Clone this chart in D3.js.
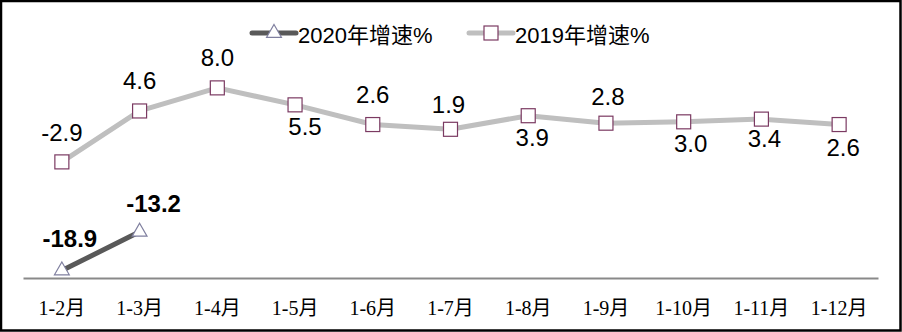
<!DOCTYPE html>
<html>
<head>
<meta charset="utf-8">
<script src="https://cdn.jsdelivr.net/npm/d3@7/dist/d3.min.js"></script>
<style>
  html, body { margin: 0; padding: 0; background: #fff; }
  svg { display: block; }
</style>
</head>
<body>
<svg id="chart" width="902" height="332"></svg>
<script>
// Monthly cumulative periods
const categories = ["1-2月", "1-3月", "1-4月", "1-5月", "1-6月", "1-7月", "1-8月", "1-9月", "1-10月", "1-11月", "1-12月"];
// Growth rates, %
const growth2020 = [-18.9, -13.2];
const growth2019 = [-2.9, 4.6, 8.0, 5.5, 2.6, 1.9, 3.9, 2.8, 3.0, 3.4, 2.6];
const seriesNames = ["2020年增速%", "2019年增速%"];

// Label offsets (dx, dy) from each point
const labelOffset2019 = [[0, -29], [0, -30], [0, -30], [10, 22], [0, -30], [-2, -25], [4, 22], [2, -27], [7, 22], [3, 19], [4, 23]];
const labelOffset2020 = [[8, -32], [14, -28]];

const W = 902, H = 332;
const svg = d3.select("#chart");

// Outer frame
svg.append("rect")
  .attr("x", 1).attr("y", 1).attr("width", W - 2.5).attr("height", H - 2.5)
  .attr("fill", "#fff").attr("stroke", "#000").attr("stroke-width", 2.5);

const x = d3.scaleBand().domain(categories).range([23, 878]);
const y = d3.scaleLinear().domain([-20, 10]).range([278, 74.3]);
const cx = d => x(d) + x.bandwidth() / 2;

// Category axis
const axis = svg.append("g")
  .attr("transform", `translate(0,${y(-20)})`)
  .call(d3.axisBottom(x).tickSize(0).tickPadding(23));
axis.select(".domain").attr("stroke", "#898989").attr("stroke-width", 2.2);
axis.selectAll("text")
  .attr("font-family", "'Liberation Serif', 'Noto Sans CJK SC', serif")
  .attr("font-size", 20)
  .attr("fill", "#000");

const line = d3.line().x((d, i) => cx(categories[i])).y(d => y(d));

// 2019 series
svg.append("path").datum(growth2019)
  .attr("d", line)
  .attr("fill", "none").attr("stroke", "#bfbfbf").attr("stroke-width", 5)
  .attr("stroke-linejoin", "round");

// 2020 series
svg.append("path").datum(growth2020)
  .attr("d", line)
  .attr("fill", "none").attr("stroke", "#595959").attr("stroke-width", 5)
  .attr("stroke-linejoin", "round");

const sq = 14;
svg.append("g").selectAll("rect").data(growth2019).join("rect")
  .attr("x", (d, i) => cx(categories[i]) - sq / 2)
  .attr("y", d => y(d) - sq / 2)
  .attr("width", sq).attr("height", sq)
  .attr("fill", "#fff").attr("stroke", "#7b3a62").attr("stroke-width", 1.2);

const tri = d3.symbol().type(d3.symbolTriangle).size(95);
svg.append("g").selectAll("path").data(growth2020).join("path")
  .attr("d", tri)
  .attr("transform", (d, i) => `translate(${cx(categories[i])},${y(d)})`)
  .attr("fill", "#fff").attr("stroke", "#7f7f9f").attr("stroke-width", 1.2);

// Value labels, 2019
svg.append("g").selectAll("text").data(growth2019).join("text")
  .attr("x", (d, i) => cx(categories[i]) + labelOffset2019[i][0])
  .attr("y", (d, i) => y(d) + labelOffset2019[i][1])
  .attr("text-anchor", "middle")
  .attr("font-family", "'Liberation Sans', Arial, sans-serif")
  .attr("font-size", 24)
  .attr("fill", "#000")
  .attr("dy", "0.35em")
  .text(d => d.toFixed(1));

// Value labels, 2020
svg.append("g").selectAll("text").data(growth2020).join("text")
  .attr("x", (d, i) => cx(categories[i]) + labelOffset2020[i][0])
  .attr("y", (d, i) => y(d) + labelOffset2020[i][1])
  .attr("text-anchor", "middle")
  .attr("font-family", "'Liberation Sans', Arial, sans-serif")
  .attr("font-size", 24)
  .attr("font-weight", "bold")
  .attr("fill", "#000")
  .attr("dy", "0.35em")
  .text(d => d.toFixed(1));

// Legend
const legend = svg.append("g");
const lg = [
  { x0: 252, color: "#595959", name: seriesNames[0], marker: "tri" },
  { x0: 469, color: "#bfbfbf", name: seriesNames[1], marker: "sq" }
];
const ly = 33;
lg.forEach(l => {
  legend.append("line")
    .attr("x1", l.x0).attr("x2", l.x0 + 44).attr("y1", ly).attr("y2", ly)
    .attr("stroke", l.color).attr("stroke-width", 5).attr("stroke-linecap", "round");
  const mx = l.x0 + 22;
  if (l.marker === "tri") {
    legend.append("path").attr("d", tri).attr("transform", `translate(${mx},${ly})`)
      .attr("fill", "#fff").attr("stroke", "#7f7f9f").attr("stroke-width", 1.2);
  } else {
    legend.append("rect").attr("x", mx - sq / 2).attr("y", ly - sq / 2)
      .attr("width", sq).attr("height", sq)
      .attr("fill", "#fff").attr("stroke", "#7b3a62").attr("stroke-width", 1.2);
  }
  legend.append("text")
    .attr("x", l.x0 + 46).attr("y", ly + 2).attr("dy", "0.35em")
    .attr("font-family", "'Liberation Sans', 'Noto Sans CJK SC', Arial, sans-serif")
    .attr("font-size", 22)
    .attr("fill", "#000")
    .text(l.name);
});
</script>
</body>
</html>
